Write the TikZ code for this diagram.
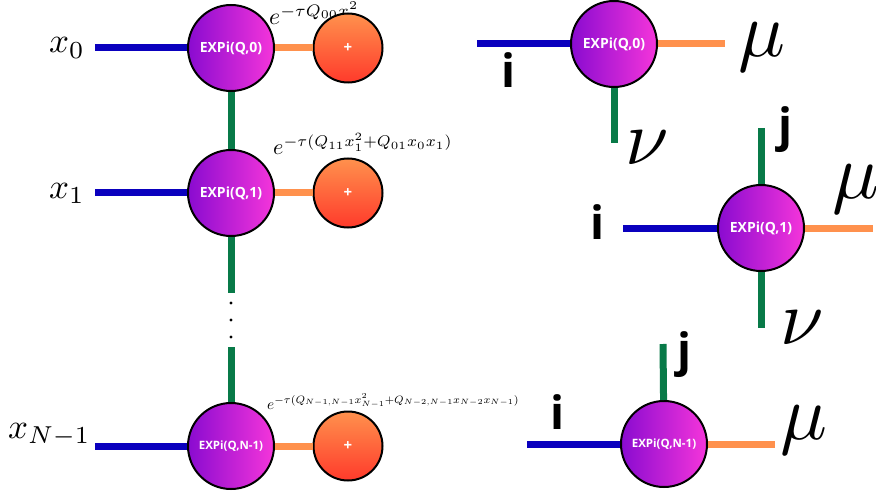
\documentclass[tikz,border=0pt]{standalone}
\usepackage{fontspec}
\setsansfont{Open Sans}
\usepackage{amsmath}
\usepackage{graphicx}
\usetikzlibrary{positioning}
\definecolor{legblue}{HTML}{0A00BE}
\definecolor{legorange}{HTML}{FF914D}
\definecolor{leggreen}{HTML}{087A48}
\definecolor{expleft}{HTML}{8A0BD0}
\definecolor{expright}{HTML}{F535DA}
\definecolor{plustop}{HTML}{FF914D}
\definecolor{plusbot}{HTML}{FF3A2B}
\newcommand{\bigmath}[2]{\scalebox{#1}{$#2$}}
\tikzset{
  expinode/.style={circle, draw=black, line width=2pt, left color=expleft, right color=expright,
    minimum size=86pt, inner sep=0pt, text=white, font=\sffamily\bfseries\fontsize{14}{14}\selectfont},
  plusnode/.style={circle, draw=black, line width=2pt, top color=plustop, bottom color=plusbot,
    minimum size=69pt, inner sep=0pt, text=white, font=\sffamily\bfseries\fontsize{15}{15}\selectfont},
  ileg/.style={legblue, line width=7pt},
  mleg/.style={legorange, line width=7pt},
  nleg/.style={leggreen, line width=7pt},
  idxlabel/.style={inner sep=0pt, font=\sffamily\bfseries\fontsize{46}{46}\selectfont},
  greeklabel/.style={inner sep=0pt, anchor=base},
  xlabel/.style={inner sep=0pt, anchor=base west},
  explabel/.style={inner sep=0pt, anchor=base west}
}

\begin{document}
\begin{tikzpicture}[x=1pt,y=-1pt]
  \useasboundingbox (0,0) rectangle (876,492);
  % exponent labels (under the + circles)
  \node[explabel] (w0) at (269,25) {\bigmath{2.38}{e^{-\tau Q_{00}x_0^2}}};
  \node[explabel] (w1) at (273,155) {\bigmath{2.22}{e^{-\tau(Q_{11}x_1^2+Q_{01}x_0x_1)}}};
  \node[explabel] (wN) at (267,409) {\bigmath{1.53}{e^{-\tau(Q_{N-1,N-1}x_{N-1}^2+Q_{N-2,N-1}x_{N-2}x_{N-1})}}};
  % left chain
  \node[expinode] (e0) at (231,48) {EXPi(Q,0)};
  \node[expinode] (e1) at (231,193) {EXPi(Q,1)};
  \node[expinode, font=\sffamily\bfseries\fontsize{11.5}{11.5}\selectfont] (eN) at (231,446) {EXPi(Q,N-1)};
  \node[plusnode] (p0) at (348,48) {+};
  \node[plusnode] (p1) at (348,193) {+};
  \node[plusnode] (pN) at (348,446) {+};
  % variables
  \node[xlabel] (x0) at (49,53) {\bigmath{3.5}{x_0}};
  \node[xlabel] (x1) at (49,198) {\bigmath{3.5}{x_1}};
  \node[xlabel] (xN) at (8,438) {\bigmath{3.5}{x_{N-1}}};
  \coordinate (b0) at (95,48);
  \coordinate (b1) at (95,193);
  \coordinate (bN) at (95,446);
  \draw[ileg] (b0) -- (e0);
  \draw[ileg] (b1) -- (e1);
  \draw[ileg] (bN) -- (eN);
  \draw[mleg] (e0) -- (p0);
  \draw[mleg] (e1) -- (p1);
  \draw[mleg] (eN) -- (pN);
  % bond dimension
  \coordinate (gtop) at (231,293);
  \coordinate (gbot) at (231,347);
  \draw[nleg] (e0) -- (e1);
  \draw[nleg] (e1) -- (gtop);
  \draw[nleg] (gbot) -- (eN);
  \foreach \y in {303,320,337}
    \fill (231,\y) circle (1.7);

  % right: single tensors
  \node[expinode] (r0) at (614,44) {EXPi(Q,0)};
  \node[expinode] (r1) at (761,228) {EXPi(Q,1)};
  \node[expinode, font=\sffamily\bfseries\fontsize{11.5}{11.5}\selectfont] (rN) at (664,444) {EXPi(Q,N-1)};
  \coordinate (ri0) at (477,44);
  \coordinate (rm0) at (725,44);
  \coordinate (rn0) at (614,143);
  \coordinate (ri1) at (623,228);
  \coordinate (rm1) at (873,228);
  \coordinate (rj1) at (761,128);
  \coordinate (rn1) at (761,328);
  \coordinate (riN) at (527,444);
  \coordinate (rmN) at (775,444);
  \coordinate (rjN) at (663,344);
  \draw[ileg] (ri0) -- (r0);
  \draw[mleg] (r0) -- (rm0);
  \draw[nleg] (r0) -- (rn0);
  \draw[ileg] (ri1) -- (r1);
  \draw[mleg] (r1) -- (rm1);
  \draw[nleg] (rj1) -- (r1);
  \draw[nleg] (r1) -- (rn1);
  \draw[ileg] (riN) -- (rN);
  \draw[mleg] (rN) -- (rmN);
  \draw[nleg] (rjN) -- (rN);
  % index labels
  \node[idxlabel] (li0) at (509,70) {i};
  \node[greeklabel] (lm0) at (762,57) {\bigmath{7.8}{\mu}};
  \node[greeklabel] (ln0) at (647,165) {\bigmath{7.8}{\nu}};
  \node[idxlabel] (li1) at (598,222) {i};
  \node[idxlabel] (lj1) at (786,130) {j};
  \node[greeklabel] (lm1) at (856,199) {\bigmath{7.8}{\mu}};
  \node[greeklabel] (ln1) at (802,344) {\bigmath{7.8}{\nu}};
  \node[idxlabel] (liN) at (558,412) {i};
  \node[idxlabel] (ljN) at (685,355) {j};
  \node[greeklabel] (lmN) at (804,439) {\bigmath{7.8}{\mu}};
\end{tikzpicture}
\end{document}
